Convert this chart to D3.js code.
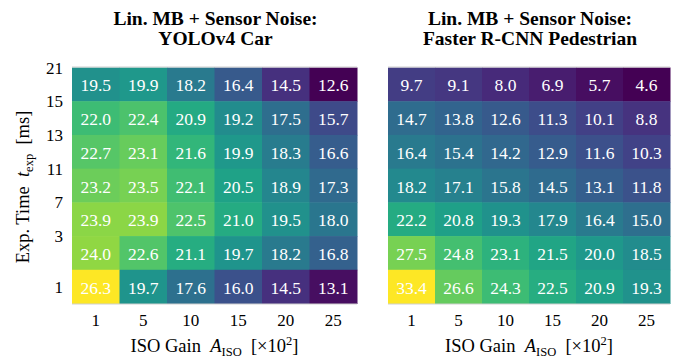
<!DOCTYPE html>
<html>
<head>
<meta charset="UTF-8">
<style>
    body { margin: 0; background: #fff; }
    text { font-family: "Liberation Serif", "Times New Roman", serif; }
    .title { font-weight: bold; font-size: 19.5px; }
    .cell-label { fill: #fff; font-size: 17.5px; }
    .tick-label { font-size: 17px; fill: #000; }
    .axis-title { font-size: 18.5px; fill: #000; }
</style>
</head>
<body>
<script src="https://cdn.jsdelivr.net/npm/d3@7"></script>
<script>
var isoGain = ["1", "5", "10", "15", "20", "25"];
var expTime = ["21", "15", "13", "11", "7", "3", "1"];

// rows top to bottom, same order as expTime
var yoloCar = [
    [19.5, 19.9, 18.2, 16.4, 14.5, 12.6],
    [22.0, 22.4, 20.9, 19.2, 17.5, 15.7],
    [22.7, 23.1, 21.6, 19.9, 18.3, 16.6],
    [23.2, 23.5, 22.1, 20.5, 18.9, 17.3],
    [23.9, 23.9, 22.5, 21.0, 19.5, 18.0],
    [24.0, 22.6, 21.1, 19.7, 18.2, 16.8],
    [26.3, 19.7, 17.6, 16.0, 14.5, 13.1]
];
var frcnnPed = [
    [9.7, 9.1, 8.0, 6.9, 5.7, 4.6],
    [14.7, 13.8, 12.6, 11.3, 10.1, 8.8],
    [16.4, 15.4, 14.2, 12.9, 11.6, 10.3],
    [18.2, 17.1, 15.8, 14.5, 13.1, 11.8],
    [22.2, 20.8, 19.3, 17.9, 16.4, 15.0],
    [27.5, 24.8, 23.1, 21.5, 20.0, 18.5],
    [33.4, 26.6, 24.3, 22.5, 20.9, 19.3]
];

var width = 673, height = 358;
var plotTop = 67.5, plotBottom = 303.5;
var svg = d3.select("body").append("svg").attr("width", width).attr("height", height);

function drawPanel(left, right, values, title, showY) {
    var g = svg.append("g");
    var x = d3.scaleBand().domain(isoGain).range([left, right]);
    var y = d3.scaleBand().domain(expTime).range([plotTop, plotBottom]);
    var all = d3.merge(values);
    var color = d3.scaleSequential(d3.interpolateViridis).domain(d3.extent(all));

    var cells = [];
    values.forEach(function(row, i) {
        row.forEach(function(v, j) {
            cells.push({ r: expTime[i], c: isoGain[j], v: v });
        });
    });

    g.selectAll("rect.cell").data(cells).enter().append("rect")
        .attr("class", "cell")
        .attr("x", function(d) { return x(d.c); })
        .attr("y", function(d) { return y(d.r); })
        .attr("width", x.bandwidth() + 0.5)
        .attr("height", y.bandwidth() + 0.5)
        .attr("fill", function(d) { return color(d.v); });

    g.selectAll("text.cell-label").data(cells).enter().append("text")
        .attr("class", "cell-label")
        .attr("x", function(d) { return x(d.c) + x.bandwidth() / 2; })
        .attr("y", function(d) { return y(d.r) + y.bandwidth() / 2 + 7; })
        .attr("text-anchor", "middle")
        .text(function(d) { return d.v.toFixed(1); });

    // faint frame lines top and bottom
    g.append("line").attr("x1", left).attr("x2", right).attr("y1", plotTop - 0.5).attr("y2", plotTop - 0.5)
        .attr("stroke", "#cfcfcf").attr("stroke-width", 1);
    g.append("line").attr("x1", left).attr("x2", right).attr("y1", plotBottom + 0.5).attr("y2", plotBottom + 0.5)
        .attr("stroke", "#cfcfcf").attr("stroke-width", 1);

    // x tick labels
    g.selectAll("text.xtick").data(isoGain).enter().append("text")
        .attr("class", "tick-label xtick")
        .attr("x", function(d) { return x(d) + x.bandwidth() / 2; })
        .attr("y", 326)
        .attr("text-anchor", "middle")
        .text(function(d) { return d; });

    // x axis title
    var cx = (left + right) / 2;
    var xt = g.append("text").attr("class", "axis-title")
        .attr("x", cx).attr("y", 352).attr("text-anchor", "middle");
    xt.append("tspan").text("ISO Gain\u2002");
    xt.append("tspan").attr("font-style", "italic").text("A");
    xt.append("tspan").attr("font-size", "12.5px").attr("dy", 4).text("ISO");
    xt.append("tspan").attr("dy", -4).text("\u2002[\u00d710");
    xt.append("tspan").attr("font-size", "12.5px").attr("dy", -7).text("2");
    xt.append("tspan").attr("dy", 7).text("]");

    // title
    var tt = g.append("text").attr("class", "title").attr("text-anchor", "middle");
    tt.append("tspan").attr("x", cx + 1).attr("y", 25).text(title[0]);
    tt.append("tspan").attr("x", cx + 1).attr("y", 45).text(title[1]);

    if (showY) {
        // ticks sit at row tops, except the last which is centred
        g.selectAll("text.ytick").data(expTime).enter().append("text")
            .attr("class", "tick-label ytick")
            .attr("x", left - 9)
            .attr("y", function(d, i) {
                var yy = (i === expTime.length - 1) ? y(d) + y.bandwidth() / 2 : y(d);
                return yy + 6;
            })
            .attr("text-anchor", "end")
            .text(function(d) { return d; });

        var yt = g.append("text").attr("class", "axis-title")
            .attr("transform", "translate(29,187) rotate(-90)")
            .attr("text-anchor", "middle");
        yt.append("tspan").text("Exp. Time\u2002");
        yt.append("tspan").attr("font-style", "italic").text("t");
        yt.append("tspan").attr("font-size", "12.5px").attr("dy", 4).text("exp");
        yt.append("tspan").attr("dy", -4).text("\u2002[ms]");
    }
}

drawPanel(72, 357, yoloCar, ["Lin. MB + Sensor Noise:", "YOLOv4 Car"], true);
drawPanel(388, 670, frcnnPed, ["Lin. MB + Sensor Noise:", "Faster R-CNN Pedestrian"], false);
</script>
</body>
</html>
